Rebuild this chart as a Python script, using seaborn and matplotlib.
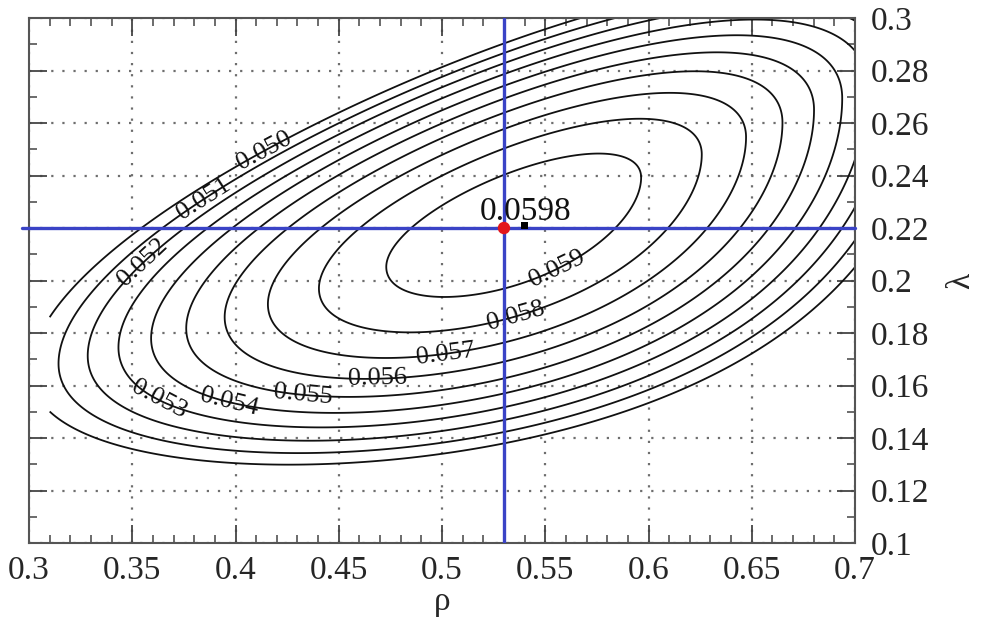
import numpy as np
import matplotlib
matplotlib.use("Agg")
import matplotlib.pyplot as plt
import seaborn as sns
from matplotlib.ticker import MultipleLocator, FixedLocator, FixedFormatter

# Niveles de contorno y posicion de sus etiquetas
levels = [0.050, 0.051, 0.052, 0.053, 0.054, 0.055, 0.056, 0.057, 0.058, 0.059]
label_rho = [0.414, 0.384, 0.355, 0.3615, 0.397, 0.433, 0.4685, 0.5015, 0.534, 0.554]
label_lam = [0.2497, 0.2318, 0.2070, 0.1526, 0.1533, 0.1583, 0.1648, 0.1743, 0.1914, 0.2070]

# Parametros de la superficie estimados a partir de los contornos
peak_value = 0.0598
peak_rho = 0.536
peak_lam = 0.222
ridge_drop = [0.2105, 0.142]     # caida del maximo a lo largo de rho (u^2, u^3)
ridge_path = [0.2763, 0.155]     # lambda de la cresta (u, u^2)
spread_up = 2.0                  # curvatura por encima de la cresta
spread_down = [1.42, -3.8]       # curvatura por debajo (constante, pendiente en u)

rho_range = [0.31, 0.70]
lam_range = [0.10, 0.30]

# Punto elegido y maximo
rho_sel = 0.53
lam_sel = 0.22
max_rho = 0.540
max_lam = 0.221
max_text = "0.0598"

xticks = [0.3, 0.35, 0.4, 0.45, 0.5, 0.55, 0.6, 0.65, 0.7]
xtick_labels = ["0.3", "0.35", "0.4", "0.45", "0.5", "0.55", "0.6", "0.65", "0.7"]
yticks = [0.1, 0.12, 0.14, 0.16, 0.18, 0.2, 0.22, 0.24, 0.26, 0.28, 0.3]
ytick_labels = ["0.1", "0.12", "0.14", "0.16", "0.18", "0.2", "0.22", "0.24", "0.26", "0.28", "0.3"]

sns.set_theme(style="ticks")
plt.rcParams["font.family"] = ["Liberation Serif", "DejaVu Serif"]

# Superficie
rho = np.linspace(rho_range[0], rho_range[1], 400)
lam = np.linspace(lam_range[0], lam_range[1], 400)
R, L = np.meshgrid(rho, lam)
u = R - peak_rho
ridge_val = peak_value - ridge_drop[0] * u**2 - ridge_drop[1] * u**3
ridge_lam = peak_lam + ridge_path[0] * u + ridge_path[1] * u**2
d = L - ridge_lam
curv = np.where(d > 0, spread_up, spread_down[0] + spread_down[1] * u)
Z = ridge_val - curv * d**2

fig = plt.figure(figsize=(9.84, 6.17), dpi=100)
ax = fig.add_axes([0.0295, 0.1199, 0.8394, 0.8509])

ax.grid(True, which="major", color="#6e6e6e", ls=(0, (1, 4)), lw=1.6)

cs = ax.contour(R, L, Z, levels=levels, colors="#111111", linewidths=1.3)
ax.clabel(cs, manual=list(zip(label_rho, label_lam)), fmt="%.3f",
          fontsize=19, inline=False, colors="#111111")

# Lineas del punto elegido
blue = "#3a43c6"
ax.axvline(rho_sel, color=blue, lw=2.4, zorder=4)
ax.axhline(lam_sel, xmin=-0.008, xmax=1, color=blue, lw=2.4, zorder=4, clip_on=False)

sns.scatterplot(x=[rho_sel], y=[lam_sel], color="#e3161c", s=80,
                edgecolor="none", zorder=6, ax=ax, legend=False)
sns.scatterplot(x=[max_rho], y=[max_lam], marker="s", color="black", s=22,
                edgecolor="none", zorder=6, ax=ax, legend=False)
ax.text(0.5184, 0.2232, max_text, fontsize=24, ha="left", va="baseline",
        color="#111111", zorder=7)

ax.set_xlim(0.3, 0.7)
ax.set_ylim(0.1, 0.3)
ax.xaxis.set_major_locator(FixedLocator(xticks))
ax.xaxis.set_major_formatter(FixedFormatter(xtick_labels))
ax.yaxis.set_major_locator(FixedLocator(yticks))
ax.yaxis.set_major_formatter(FixedFormatter(ytick_labels))
ax.xaxis.set_minor_locator(MultipleLocator(0.01))
ax.yaxis.set_minor_locator(MultipleLocator(0.01))

ax.tick_params(which="both", direction="in", top=True, right=True,
               left=True, bottom=True, labelleft=False, labelright=True,
               color="#444444")
ax.tick_params(which="major", length=13, width=1.3, labelsize=24, pad=11)
ax.tick_params(axis="x", which="major", pad=9)
ax.tick_params(which="minor", length=6, width=1.1)

for sp in ax.spines.values():
    sp.set_color("#555555")
    sp.set_linewidth(1.5)

ax.set_xlabel("ρ", fontsize=24, labelpad=0)
ax.yaxis.set_label_position("right")
ax.set_ylabel("λ", fontsize=24, rotation=90, labelpad=12)

fig.savefig("out.png", dpi=100)
